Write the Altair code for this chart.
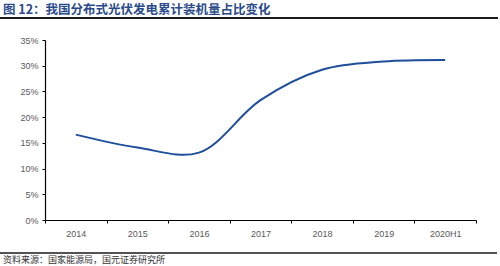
import altair as alt
import pandas as pd

years = ["2014", "2015", "2016", "2017", "2018", "2019", "2020H1"]
share = [16.6, 14.1, 13.1, 23.3, 29.2, 30.8, 31.1]
y_ticks = [0, 5, 10, 15, 20, 25, 30, 35]
title_text = "图 12：我国分布式光伏发电累计装机量占比变化"
source_text = "资料来源：国家能源局，国元证券研究所"

df = pd.DataFrame({"year": years, "share": share})

W, H = 431, 180

line = alt.Chart(df).mark_line(
    color="#1f4e9c", strokeWidth=2, interpolate="catmull-rom"
).encode(
    x=alt.X("year:N", sort=years, title=None,
            scale=alt.Scale(paddingInner=0, paddingOuter=0),
            axis=alt.Axis(labelAngle=0, labelColor="#595959", labelFontSize=9,
                          labelFont="Liberation Sans", labelPadding=6,
                          domainColor="#000000", domainWidth=1.2,
                          tickColor="#000000", tickSize=3, tickBand="extent",
                          grid=False)),
    y=alt.Y("share:Q", title=None,
            scale=alt.Scale(domain=[0, 35], nice=False),
            axis=alt.Axis(values=y_ticks, labelExpr="datum.value + '%'",
                          labelColor="#595959", labelFontSize=9,
                          labelFont="Liberation Sans", labelPadding=4,
                          domainColor="#000000", domainWidth=1.2,
                          tickColor="#000000", tickSize=3, grid=False)),
)

title = alt.Chart(pd.DataFrame({"t": [title_text]})).mark_text(
    align="left", baseline="middle", fontSize=12.5, fontWeight="bold",
    font="Noto Sans CJK SC", color="#2a4a8c"
).encode(x=alt.value(-42), y=alt.value(-30.5), text="t:N")

title_rule = alt.Chart(pd.DataFrame({"a": [0]})).mark_rule(
    color="#1a1a1a", strokeWidth=2
).encode(x=alt.value(-45), x2=alt.value(453), y=alt.value(-22))

bottom_rule = alt.Chart(pd.DataFrame({"a": [0]})).mark_rule(
    color="#1a1a1a", strokeWidth=1.5
).encode(x=alt.value(-45), x2=alt.value(452), y=alt.value(213))

source = alt.Chart(pd.DataFrame({"t": [source_text]})).mark_text(
    align="left", baseline="middle", fontSize=9,
    font="Noto Sans CJK SC", color="#333333"
).encode(x=alt.value(-42), y=alt.value(219.5), text="t:N")

chart = alt.layer(line, title, title_rule, bottom_rule, source).properties(
    width=W, height=H,
    autosize=alt.AutoSizeParams(type="none"),
    padding={"left": 45, "top": 40, "right": 24, "bottom": 46},
    background="white",
).configure_view(stroke=None)

chart.save("out.html", embed_options={"renderer": "svg", "actions": False})
